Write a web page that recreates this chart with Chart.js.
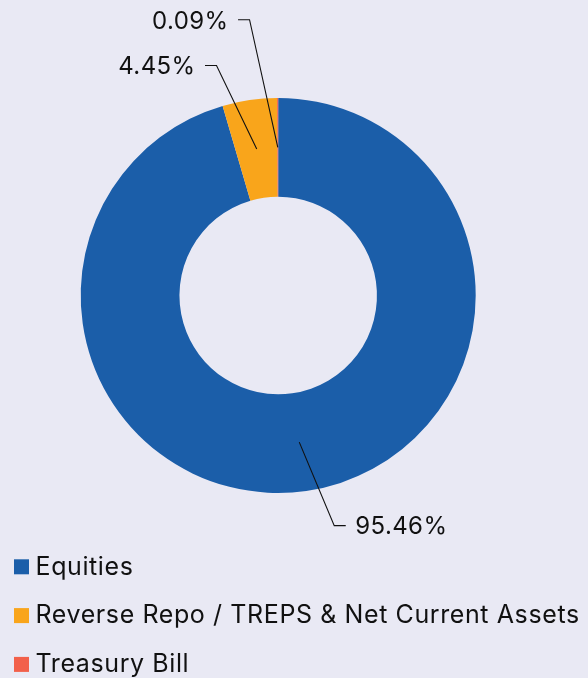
<!DOCTYPE html>
<html>
<head>
<meta charset="utf-8">
<script src="https://cdn.jsdelivr.net/npm/chart.js@4"></script>
<style>
  html, body { margin: 0; padding: 0; background: #e9e9f4; }
  #wrap { width: 588px; height: 678px; position: relative; }
</style>
</head>
<body>
<div id="wrap"><canvas id="c" width="588" height="678"></canvas></div>
<script>
const categories = ['Equities', 'Reverse Repo / TREPS & Net Current Assets', 'Treasury Bill'];
const values = [95.46, 4.45, 0.09];
const valueLabels = ['95.46%', '4.45%', '0.09%'];
const colors = ['#1b5ea9', '#f9a51b', '#f2604a'];

const FONT = 'Inter, "Noto Sans", sans-serif';

const leaderLabels = {
  id: 'leaderLabels',
  afterDatasetsDraw(chart) {
    const ctx = chart.ctx;
    const meta = chart.getDatasetMeta(0);
    const items = [];
    meta.data.forEach((arc, i) => {
      const p = arc.getProps(['x', 'y', 'startAngle', 'endAngle', 'innerRadius', 'outerRadius'], true);
      const mid = (p.startAngle + p.endAngle) / 2;
      const rMid = (p.innerRadius + p.outerRadius) / 2;
      const sx = p.x + Math.cos(mid) * rMid;
      const sy = p.y + Math.sin(mid) * rMid;
      const rl = p.outerRadius + 35;
      const side = Math.cos(mid) >= 0 ? 1 : -1;
      const ex = p.x + Math.cos(mid) * rl + (side > 0 ? 23 : -28);
      const ey = p.y + Math.sin(mid) * rl;
      items.push({ i, sx, sy, ex, ey, side, top: ey < p.y });
    });
    const gapY = 45.7;
    [-1, 1].forEach(side => {
      const topItems = items.filter(t => t.side === side && t.top).sort((a, b) => b.ey - a.ey);
      for (let k = 1; k < topItems.length; k++) {
        if (topItems[k - 1].ey - topItems[k].ey < gapY) topItems[k].ey = topItems[k - 1].ey - gapY;
      }
      const botItems = items.filter(t => t.side === side && !t.top).sort((a, b) => a.ey - b.ey);
      for (let k = 1; k < botItems.length; k++) {
        if (botItems[k].ey - botItems[k - 1].ey < gapY) botItems[k].ey = botItems[k - 1].ey + gapY;
      }
    });
    ctx.save();
    ctx.strokeStyle = '#111';
    ctx.lineWidth = 1.1;
    ctx.fillStyle = '#111';
    ctx.font = '24px ' + FONT;
    ctx.letterSpacing = '0.4px';
    ctx.textBaseline = 'alphabetic';
    items.forEach(t => {
      const hx = t.ex + t.side * 11.5;
      ctx.beginPath();
      ctx.moveTo(t.sx, t.sy);
      ctx.lineTo(t.ex, t.ey);
      ctx.lineTo(hx, t.ey);
      ctx.stroke();
      ctx.textAlign = t.side > 0 ? 'left' : 'right';
      ctx.fillText(valueLabels[t.i], hx + t.side * 9.5, t.ey + 8.8);
    });
    ctx.restore();
  }
};

const customLegend = {
  id: 'customLegend',
  afterDraw(chart) {
    const ctx = chart.ctx;
    const ds = chart.data.datasets[0];
    ctx.save();
    ctx.font = '25px ' + FONT;
    ctx.letterSpacing = '0.6px';
    ctx.textAlign = 'left';
    ctx.textBaseline = 'alphabetic';
    chart.data.labels.forEach((lab, i) => {
      const top = 559.3 + i * 48.8;
      ctx.fillStyle = ds.backgroundColor[i];
      ctx.fillRect(14, top, 15, 15);
      ctx.fillStyle = '#111';
      ctx.fillText(lab, 35.5, top + 15.2);
    });
    ctx.restore();
  }
};

new Chart(document.getElementById('c'), {
  type: 'doughnut',
  data: {
    labels: categories,
    datasets: [{
      data: values,
      backgroundColor: colors,
      borderWidth: 0,
      hoverOffset: 0
    }]
  },
  options: {
    responsive: false,
    devicePixelRatio: 1,
    animation: false,
    cutout: '50%',
    layout: { padding: { left: 80.7, right: 112.3, top: 98, bottom: 185 } },
    plugins: {
      legend: { display: false },
      tooltip: { enabled: false }
    }
  },
  plugins: [leaderLabels, customLegend]
});
</script>
</body>
</html>
